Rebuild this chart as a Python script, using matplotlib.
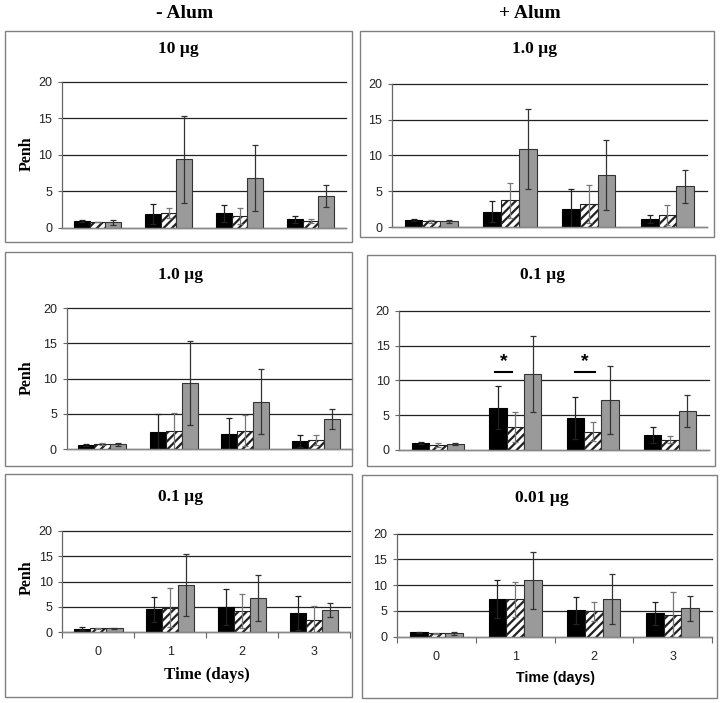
import matplotlib
matplotlib.use("Agg")
import matplotlib.pyplot as plt
from matplotlib.patches import Rectangle
import numpy as np

# ============================
# DATA  (Penh, mean and error per day; series order: black, hatched, gray)
# ============================

days = [0, 1, 2, 3]
day_labels = ["0", "1", "2", "3"]

neg_10_means = [[0.87, 1.83, 1.96, 1.14], [0.78, 2.0, 1.6, 0.91], [0.73, 9.36, 6.8, 4.34]]
neg_10_errs = [[0.13, 1.37, 1.19, 0.46], [0.04, 0.65, 1.05, 0.28], [0.32, 5.94, 4.48, 1.46]]

pos_1_means = [[0.93, 2.14, 2.56, 1.12], [0.79, 3.72, 3.21, 1.67], [0.79, 10.88, 7.21, 5.67]]
pos_1_errs = [[0.14, 1.44, 2.7, 0.51], [0.19, 2.47, 2.65, 1.45], [0.23, 5.54, 4.88, 2.28]]

neg_1_means = [[0.6, 2.4, 2.1, 1.15], [0.75, 2.6, 2.6, 1.3], [0.7, 9.35, 6.7, 4.3]]
neg_1_errs = [[0.1, 2.55, 2.3, 0.85], [0.1, 2.6, 2.2, 0.7], [0.25, 5.95, 4.6, 1.45]]

pos_01_means = [[1.0, 6.1, 4.6, 2.2], [0.75, 3.25, 2.65, 1.5], [0.85, 10.9, 7.2, 5.65]]
pos_01_errs = [[0.15, 3.05, 2.95, 1.15], [0.25, 2.15, 1.4, 0.55], [0.2, 5.5, 4.9, 2.3]]

neg_01_means = [[0.7, 4.5, 4.9, 3.75], [0.8, 4.85, 4.2, 2.35], [0.8, 9.3, 6.8, 4.4]]
neg_01_errs = [[0.3, 2.4, 3.55, 3.35], [0.1, 3.8, 3.3, 2.85], [0.1, 6.05, 4.5, 1.3]]

pos_001_means = [[0.85, 7.4, 5.1, 4.55], [0.65, 7.25, 4.9, 4.15], [0.7, 10.95, 7.25, 5.5]]
pos_001_errs = [[0.15, 3.7, 2.55, 2.2], [0.15, 3.45, 1.9, 4.45], [0.3, 5.5, 4.85, 2.45]]

# significance marks on the "+ Alum 0.1 ug" panel: (x from, x to, y)
sig_marks = [(0.74, 0.96, 11.2), (1.77, 2.03, 11.2)]

# ============================
# STYLE
# ============================

SERIF = "Liberation Serif"
SANS = "Liberation Sans"
plt.rcParams["font.family"] = SANS
plt.rcParams["hatch.linewidth"] = 1.6

W, H = 724, 703
fig = plt.figure(figsize=(W / 100, H / 100), dpi=100)
fig.patch.set_facecolor("white")

bar_w = 0.225
offsets = [-bar_w, 0, bar_w]
fills = ["black", "white", "#9a9a9a"]
edges = ["black", "#222222", "#333333"]
hatches = [None, "////", None]
err_colors = ["#222222", "#777777", "#333333"]


def add_axes(l, t, r, b):
    return fig.add_axes([l / W, 1 - b / H, (r - l) / W, (b - t) / H])


def ftext(x, y, s, **kw):
    fig.text(x / W, 1 - y / H, s, ha="center", va="center", **kw)


# ============================
# PANELS
# ============================

panels = [
    # box (l,t,r,b), axes (l,t,r,b), title, title xy, means, errs, penh y, bottom row
    ((5, 31, 352, 242), (62, 81.7, 346, 227.7), "10 \u00b5g", (178, 49),
     neg_10_means, neg_10_errs, 154, None),
    ((360, 31, 714, 237), (392, 83.7, 706.7, 227), "1.0 \u00b5g", (535, 49),
     pos_1_means, pos_1_errs, None, None),
    ((5, 252, 352, 466), (66.7, 308, 352, 449.3), "1.0 \u00b5g", (181, 275),
     neg_1_means, neg_1_errs, 378, None),
    ((367, 255, 715, 466), (399.3, 310.7, 708.7, 450), "0.1 \u00b5g", (542, 275),
     pos_01_means, pos_01_errs, None, None),
    ((5, 474, 352, 697), (62.3, 530.7, 350, 632.3), "0.1 \u00b5g", (180, 497),
     neg_01_means, neg_01_errs, 578, (207, 675, SERIF, 12.2)),
    ((362, 475, 717, 698), (397, 533.7, 712, 636.7), "0.01 \u00b5g", (542, 498),
     pos_001_means, pos_001_errs, None, (555, 678, SANS, 10.3)),
]

x = np.array(days, dtype=float)

for i, (box, axbox, title, tpos, means, errs, penh_y, bottom) in enumerate(panels):
    bl, bt, br, bb = box
    fig.patches.append(Rectangle((bl / W, 1 - bb / H), (br - bl) / W, (bb - bt) / H,
                                 transform=fig.transFigure, fill=False,
                                 edgecolor="#808080", lw=1.0))

    ax = add_axes(*axbox)
    for k in range(3):
        ax.bar(x + offsets[k], means[k], width=bar_w, color=fills[k],
               edgecolor=edges[k], hatch=hatches[k], linewidth=0.8, zorder=3)
        ax.errorbar(x + offsets[k], means[k], yerr=errs[k], fmt="none",
                    ecolor=err_colors[k], elinewidth=0.9, capsize=2,
                    capthick=0.9, zorder=4)

    ax.set_xlim(-0.5, 3.5)
    ax.set_ylim(0, 20)
    ax.set_yticks([0, 5, 10, 15, 20])
    ax.yaxis.grid(True, color="#222222", lw=0.9, zorder=1)
    for gl in ax.get_ygridlines():
        gl.set_clip_on(False)
    ax.set_axisbelow(True)
    ax.tick_params(axis="y", length=3, width=0.8, color="#666666",
                   labelsize=9, pad=4, labelcolor="#222222")

    for s in ["top", "right"]:
        ax.spines[s].set_visible(False)
    ax.spines["left"].set_color("#666666")
    ax.spines["bottom"].set_color("#888888")
    ax.spines["left"].set_linewidth(0.9)
    ax.spines["bottom"].set_linewidth(1.0)
    ax.spines["bottom"].set_zorder(5)

    if bottom is None:
        ax.set_xticks([])
    else:
        ax.set_xticks([-0.5, 0.5, 1.5, 2.5, 3.5])
        ax.set_xticklabels([])
        ax.tick_params(axis="x", which="major", length=4, width=0.8, color="#666666")
        ax.set_xticks(days, minor=True)
        ax.set_xticklabels(day_labels, minor=True)
        ax.tick_params(axis="x", which="minor", length=0, pad=10, labelsize=9,
                       labelcolor="#222222")
        bx, by, fam, fs = bottom
        ftext(bx, by, "Time (days)", family=fam, fontweight="bold", fontsize=fs)

    ftext(tpos[0], tpos[1], title, family=SERIF, fontweight="bold", fontsize=12.5)
    if penh_y is not None:
        ftext(27, penh_y, "Penh", family=SERIF, fontweight="bold", fontsize=11.5,
              rotation=90)

    if i == 3:
        for x0, x1, yy in sig_marks:
            ax.plot([x0, x1], [yy, yy], color="black", lw=1.5, zorder=5)
            ax.text((x0 + x1) / 2, yy + 0.3, "*", ha="center", va="bottom",
                    fontsize=14, fontweight="bold", color="black", zorder=5)

# column headers
ftext(185, 13, "- Alum", family=SERIF, fontweight="bold", fontsize=14)
ftext(530, 13, "+ Alum", family=SERIF, fontweight="bold", fontsize=14)

fig.savefig("out.png", dpi=100, facecolor="white")
print("saved out.png")
